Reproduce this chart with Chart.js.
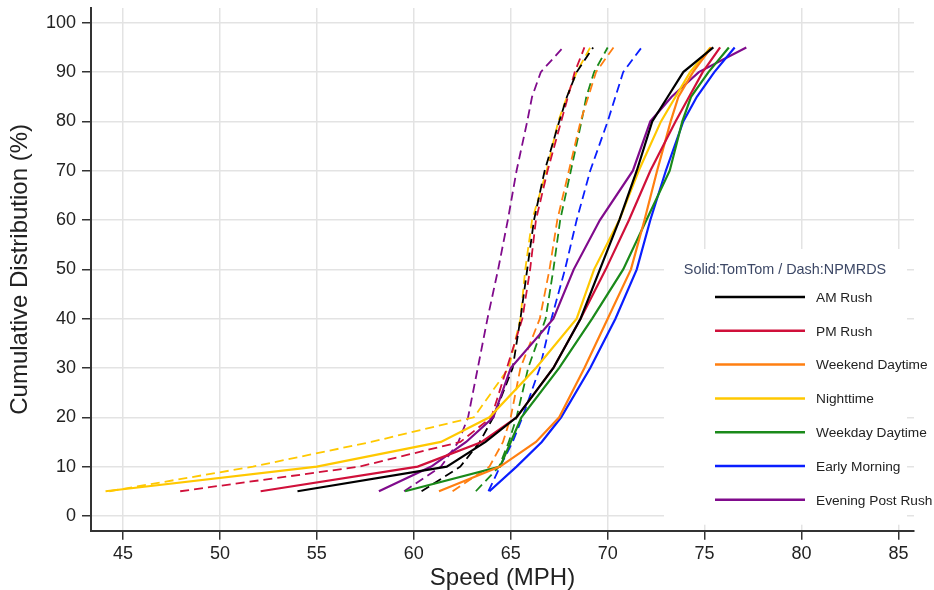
<!DOCTYPE html>
<html>
<head>
<meta charset="utf-8">
<script src="https://cdn.jsdelivr.net/npm/chart.js@4.4.1/dist/chart.umd.min.js"></script>
<style>
  html, body { margin: 0; padding: 0; background: #fff; }
  #wrap { width: 934px; height: 590px; }
</style>
</head>
<body>
<div id="wrap"><canvas id="speedChart" width="934" height="590"></canvas></div>
<script>
// cumulative percent levels shared by every curve
const percentiles = [5, 10, 15, 20, 30, 40, 50, 60, 70, 80, 85, 90, 95];

const periods = ["AM Rush", "PM Rush", "Weekend Daytime", "Nighttime", "Weekday Daytime", "Early Morning", "Evening Post Rush"];
const periodColors = ["#000000", "#d0103a", "#ff7f11", "#ffc800", "#1a8a1a", "#0a1eff", "#800b8c"];

// TomTom speeds (solid lines), mph at each percentile
const tomtomAmRush    = [54.0, 61.7, 63.7, 65.3, 67.2, 68.6, 69.6, 70.6, 71.5, 72.3, 73.1, 73.9, 75.45];
const tomtomPmRush    = [52.1, 60.2, 63.5, 65.3, 67.2, 68.6, 69.9, 71.1, 72.2, 73.5, 74.2, 74.9, 75.8];
const tomtomWeekend   = [61.3, 64.45, 66.3, 67.5, 68.8, 70.0, 71.2, 71.9, 72.55, 73.25, 73.65, 74.4, 75.35];
const tomtomNight     = [44.1, 55.0, 61.4, 63.9, 66.3, 68.4, 69.3, 70.6, 71.6, 72.75, 73.5, 74.25, 75.3];
const tomtomWeekday   = [59.55, 64.45, 65.0, 65.55, 67.5, 69.2, 70.8, 72.0, 73.2, 73.85, 74.3, 75.2, 76.25];
const tomtomEarly     = [63.9, 65.3, 66.6, 67.6, 69.1, 70.4, 71.5, 72.2, 73.0, 73.9, 74.6, 75.5, 76.55];
const tomtomEvening   = [58.2, 60.9, 62.7, 64.1, 65.0, 67.2, 68.25, 69.6, 71.3, 72.2, 73.3, 74.7, 77.15];

// NPMRDS speeds (dashed lines)
const npmrdsAmRush    = [60.4, 62.4, 63.4, 64.1, 65.1, 65.5, 65.85, 66.2, 66.75, 67.5, 67.9, 68.4, 69.25];
const npmrdsPmRush    = [47.95, 57.2, 62.4, 64.0, 64.8, 65.6, 66.0, 66.3, 66.9, 67.6, 67.95, 68.3, 68.8];
const npmrdsWeekend   = [62.0, 63.9, 64.6, 65.0, 65.5, 66.5, 67.0, 67.4, 68.0, 68.6, 69.0, 69.4, 70.3];
const npmrdsNight     = [44.3, 51.7, 57.8, 63.1, 64.9, 65.5, 65.75, 66.1, 66.85, 67.45, 67.9, 68.4, 69.1];
const npmrdsWeekday   = [63.2, 64.4, 64.9, 65.3, 65.9, 66.8, 67.2, 67.55, 68.1, 68.65, 68.9, 69.3, 70.0];
const npmrdsEarly     = [63.85, 64.45, 65.1, 65.6, 66.5, 67.1, 67.8, 68.4, 69.1, 70.0, 70.4, 70.8, 71.75];
const npmrdsEvening   = [59.5, 61.4, 62.3, 62.8, 63.3, 63.8, 64.35, 64.85, 65.3, 65.85, 66.1, 66.55, 67.7];

const xTicks = [45, 50, 55, 60, 65, 70, 75, 80, 85];
const yTicks = [0, 10, 20, 30, 40, 50, 60, 70, 80, 90, 100];

const tomtom = [tomtomAmRush, tomtomPmRush, tomtomWeekend, tomtomNight, tomtomWeekday, tomtomEarly, tomtomEvening];
const npmrds = [npmrdsAmRush, npmrdsPmRush, npmrdsWeekend, npmrdsNight, npmrdsWeekday, npmrdsEarly, npmrdsEvening];

const FONT = "'Liberation Sans', Arial, sans-serif";

const toPoints = (speeds) => speeds.map((s, i) => ({ x: s, y: percentiles[i] }));

const datasets = [];
npmrds.forEach((speeds, i) => {
  datasets.push({
    label: periods[i] + " (NPMRDS)",
    data: toPoints(speeds),
    borderColor: periodColors[i],
    borderWidth: 1.8,
    borderDash: [9, 5],
    pointRadius: 0,
    tension: 0,
    order: 1,
  });
});
tomtom.forEach((speeds, i) => {
  datasets.push({
    label: periods[i],
    data: toPoints(speeds),
    borderColor: periodColors[i],
    borderWidth: 2.2,
    pointRadius: 0,
    tension: 0,
    order: 0,
  });
});

// white legend panel sitting over the grid, lower right
const legendBox = {
  id: "legendBox",
  beforeDatasetsDraw(chart) {
    const { ctx, chartArea } = chart;
    ctx.save();
    ctx.fillStyle = "#ffffff";
    ctx.fillRect(chartArea.right - 250, chartArea.top + 241, 243, chartArea.bottom - chartArea.top - 247);
    ctx.restore();
  },
  afterDraw(chart) {
    const { ctx, chartArea } = chart;
    const left = chartArea.right - 250;
    const top = chartArea.top + 241;
    ctx.save();
    ctx.font = "14.4px " + FONT;
    ctx.fillStyle = "#3d4866";
    ctx.textAlign = "center";
    ctx.textBaseline = "middle";
    ctx.fillText("Solid:TomTom / Dash:NPMRDS", left + 121, top + 21);

    ctx.font = "13.7px " + FONT;
    ctx.textAlign = "left";
    ctx.fillStyle = "#222";
    periods.forEach((name, i) => {
      const y = top + 48 + i * 33.8;
      ctx.strokeStyle = periodColors[i];
      ctx.lineWidth = 2.5;
      ctx.beginPath();
      ctx.moveTo(left + 51, y);
      ctx.lineTo(left + 141, y);
      ctx.stroke();
      ctx.fillText(name, left + 152, y + 1);
    });
    ctx.restore();
  },
};

new Chart(document.getElementById("speedChart"), {
  type: "line",
  data: { datasets: datasets },
  options: {
    responsive: false,
    animation: false,
    parsing: true,
    layout: { padding: { top: 8, right: 20, left: 0, bottom: 0 } },
    plugins: {
      legend: { display: false },
      tooltip: { enabled: false },
    },
    scales: {
      x: {
        type: "linear",
        min: 43.35,
        max: 85.8,
        afterBuildTicks: (axis) => { axis.ticks = xTicks.map((v) => ({ value: v })); },
        afterFit: (scale) => { scale.height = 59.3; scale.paddingLeft = 0; scale.paddingRight = 0; },
        grid: { color: "#e3e3e3", lineWidth: 1.5, tickColor: "#333", tickLength: 9, drawTicks: true },
        border: { color: "#333", width: 2 },
        ticks: { font: { family: FONT, size: 18 }, color: "#222", padding: 4, maxRotation: 0 },
        title: {
          display: true,
          text: "Speed (MPH)",
          color: "#222",
          font: { family: FONT, size: 24, lineHeight: 1 },
          padding: { top: 1, bottom: 0 },
        },
      },
      y: {
        type: "linear",
        min: -3,
        max: 103,
        afterBuildTicks: (axis) => { axis.ticks = yTicks.map((v) => ({ value: v })); },
        afterFit: (scale) => { scale.width = 91; scale.paddingTop = 0; scale.paddingBottom = 0; },
        grid: { color: "#e3e3e3", lineWidth: 1.5, tickColor: "#333", tickLength: 9, drawTicks: true },
        border: { color: "#333", width: 2 },
        ticks: { font: { family: FONT, size: 18 }, color: "#222", padding: 6 },
        title: {
          display: true,
          text: "Cumulative Distribution (%)",
          color: "#222",
          font: { family: FONT, size: 24, lineHeight: 1 },
          padding: { top: 8, bottom: 0 },
        },
      },
    },
  },
  plugins: [legendBox],
});
</script>
</body>
</html>
